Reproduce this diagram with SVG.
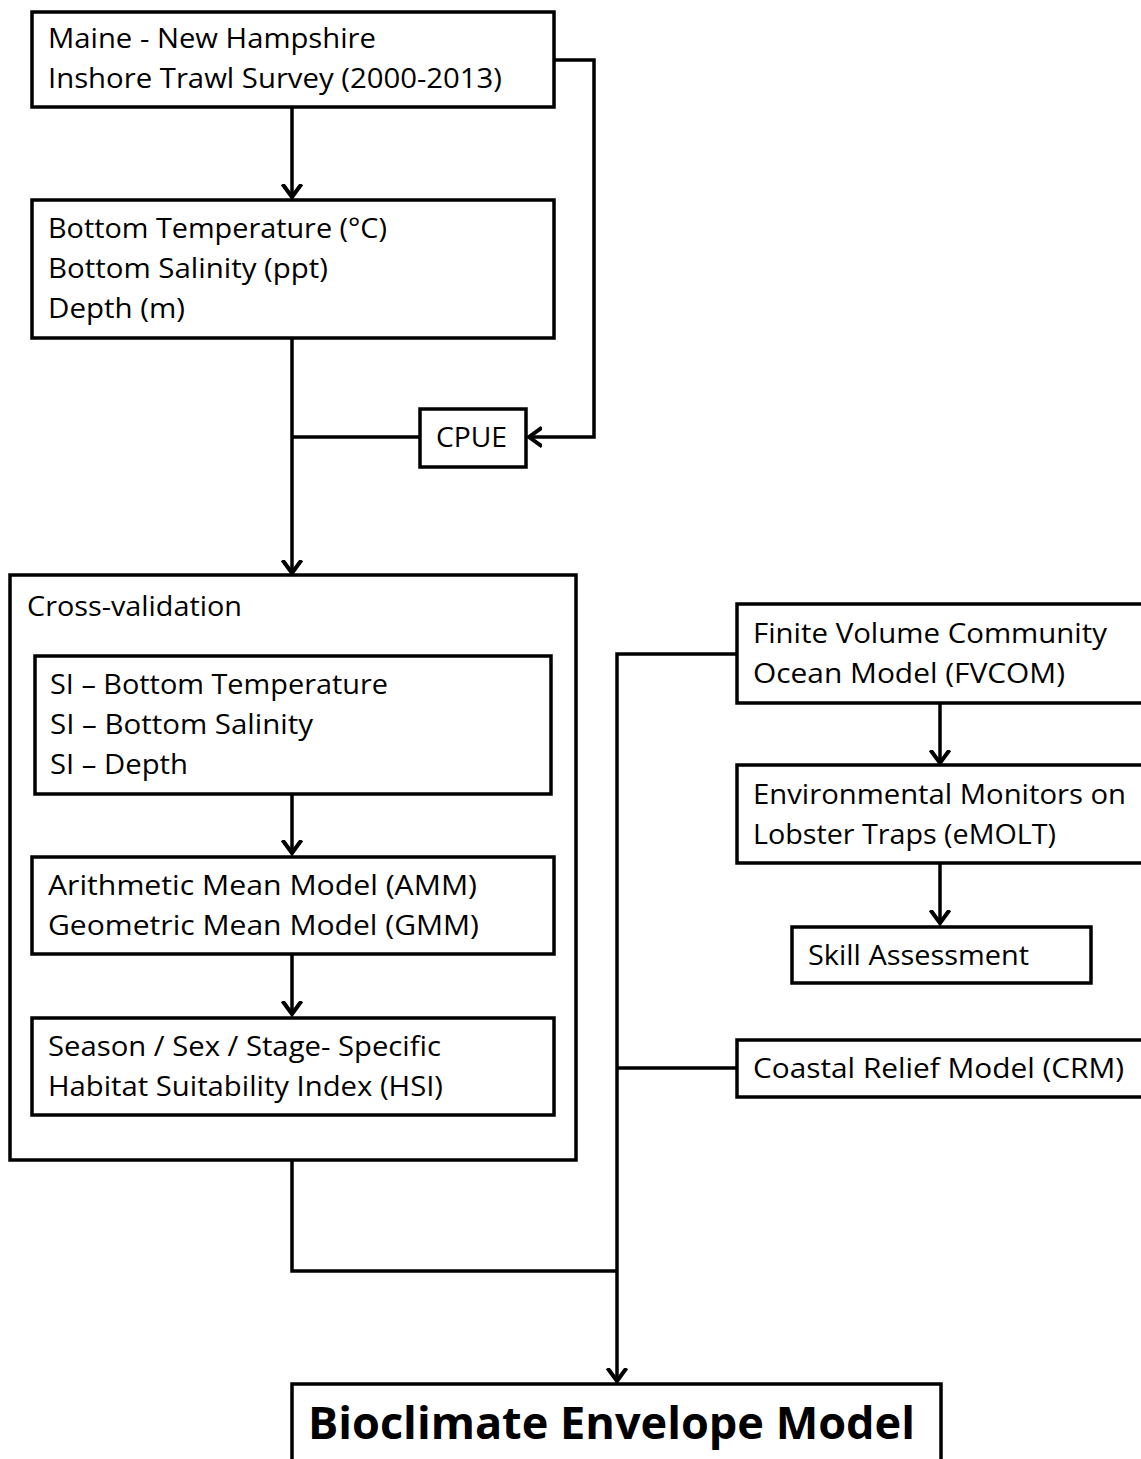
<svg xmlns="http://www.w3.org/2000/svg" width="1141" height="1459" viewBox="0 0 1141 1459">
<defs>
<style>
.box{fill:#fff;stroke:#000;stroke-width:3.5}
.frame{fill:none;stroke:#000;stroke-width:3.5}
.t{font-family:"Open Sans","Noto Sans","DejaVu Sans",sans-serif;font-size:28px;fill:#000}
.b{font-family:"Open Sans","Noto Sans","DejaVu Sans",sans-serif;font-size:44px;font-weight:bold;fill:#000}
.c{fill:none;stroke:#000;stroke-width:3.5}
</style>
<marker id="ah" markerUnits="userSpaceOnUse" markerWidth="26" markerHeight="26" viewBox="-13 -13 26 26" refX="0" refY="0" orient="auto">
<path d="M-13,-9.5 L0,0 L-13,9.5" fill="none" stroke="#000" stroke-width="4"/>
</marker>
</defs>
<rect width="1141" height="1459" fill="#fff"/>
<g id="crossval">
<rect class="frame" x="10" y="575" width="566" height="585"/>
<text class="t" x="27" y="616" textLength="215" lengthAdjust="spacingAndGlyphs">Cross-validation</text>
</g>
<g id="connectors">
<path class="c" d="M292,107 V197" marker-end="url(#ah)"/>
<path class="c" d="M292,338 V573" marker-end="url(#ah)"/>
<path class="c" d="M554,60 H594 V437 H529" marker-end="url(#ah)"/>
<path class="c" d="M420,437 H292"/>
<path class="c" d="M292,794 V853" marker-end="url(#ah)"/>
<path class="c" d="M292,954 V1014" marker-end="url(#ah)"/>
<path class="c" d="M292,1160 V1271 H617"/>
<path class="c" d="M737,654 H617 V1381" marker-end="url(#ah)"/>
<path class="c" d="M737,1068 H617"/>
<path class="c" d="M940,703 V763" marker-end="url(#ah)"/>
<path class="c" d="M940,863 V923" marker-end="url(#ah)"/>
</g>
<g id="survey">
<rect class="box" x="32" y="12" width="522" height="95"/>
<text class="t" x="48" y="48" textLength="328" lengthAdjust="spacingAndGlyphs">Maine - New Hampshire</text>
<text class="t" x="48" y="88" textLength="454" lengthAdjust="spacingAndGlyphs">Inshore Trawl Survey (2000-2013)</text>
</g>
<g id="variables">
<rect class="box" x="32" y="200" width="522" height="138"/>
<text class="t" x="48" y="238" textLength="339" lengthAdjust="spacingAndGlyphs">Bottom Temperature (°C)</text>
<text class="t" x="48" y="278" textLength="280" lengthAdjust="spacingAndGlyphs">Bottom Salinity (ppt)</text>
<text class="t" x="48" y="318" textLength="137" lengthAdjust="spacingAndGlyphs">Depth (m)</text>
</g>
<g id="cpue">
<rect class="box" x="420" y="409" width="106" height="58"/>
<text class="t" x="436" y="447" textLength="71" lengthAdjust="spacingAndGlyphs">CPUE</text>
</g>
<g id="si">
<rect class="box" x="35" y="656" width="516" height="138"/>
<text class="t" x="50" y="694" textLength="338" lengthAdjust="spacingAndGlyphs">SI – Bottom Temperature</text>
<text class="t" x="50" y="734" textLength="263" lengthAdjust="spacingAndGlyphs">SI – Bottom Salinity</text>
<text class="t" x="50" y="774" textLength="138" lengthAdjust="spacingAndGlyphs">SI – Depth</text>
</g>
<g id="models">
<rect class="box" x="32" y="857" width="522" height="97"/>
<text class="t" x="48" y="895" textLength="429" lengthAdjust="spacingAndGlyphs">Arithmetic Mean Model (AMM)</text>
<text class="t" x="48" y="935" textLength="431" lengthAdjust="spacingAndGlyphs">Geometric Mean Model (GMM)</text>
</g>
<g id="hsi">
<rect class="box" x="32" y="1018" width="522" height="97"/>
<text class="t" x="48" y="1056" textLength="393" lengthAdjust="spacingAndGlyphs">Season / Sex / Stage- Specific</text>
<text class="t" x="48" y="1096" textLength="395" lengthAdjust="spacingAndGlyphs">Habitat Suitability Index (HSI)</text>
</g>
<g id="fvcom">
<rect class="box" x="737" y="604" width="410" height="99"/>
<text class="t" x="753" y="643" textLength="354" lengthAdjust="spacingAndGlyphs">Finite Volume Community</text>
<text class="t" x="753" y="683" textLength="312" lengthAdjust="spacingAndGlyphs">Ocean Model (FVCOM)</text>
</g>
<g id="emolt">
<rect class="box" x="737" y="765" width="410" height="98"/>
<text class="t" x="753" y="804" textLength="373" lengthAdjust="spacingAndGlyphs">Environmental Monitors on</text>
<text class="t" x="753" y="844" textLength="303" lengthAdjust="spacingAndGlyphs">Lobster Traps (eMOLT)</text>
</g>
<g id="skill">
<rect class="box" x="792" y="927" width="299" height="56"/>
<text class="t" x="808" y="965" textLength="221" lengthAdjust="spacingAndGlyphs">Skill Assessment</text>
</g>
<g id="crm">
<rect class="box" x="737" y="1040" width="410" height="57"/>
<text class="t" x="753" y="1078" textLength="371" lengthAdjust="spacingAndGlyphs">Coastal Relief Model (CRM)</text>
</g>
<g id="bioclimate">
<rect class="box" x="292" y="1384" width="649" height="90"/>
<text class="b" x="308" y="1439" textLength="607" lengthAdjust="spacingAndGlyphs">Bioclimate Envelope Model</text>
</g>
</svg>
